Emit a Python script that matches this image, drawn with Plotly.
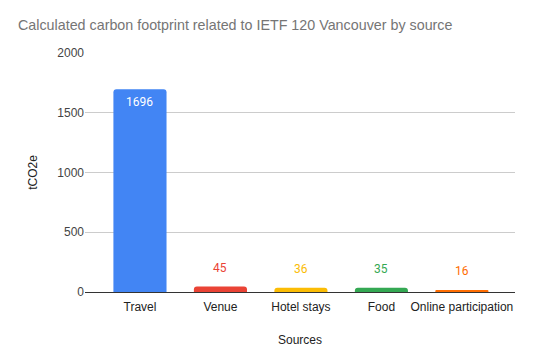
import plotly.graph_objects as go

categories = ["Travel", "Venue", "Hotel stays", "Food", "Online participation"]
values = [1696, 45, 36, 35, 16]
colors = ["#4285F4", "#EA4335", "#FBBC04", "#34A853", "#FF6D01"]
y_ticks = [0, 500, 1000, 1500, 2000]

AX = "Arial"
OFF = 8  # default body margin of the page

fig = go.Figure()
fig.add_trace(go.Bar(
    x=categories, y=values, marker=dict(color=colors, line=dict(width=0)),
    width=0.66, hoverinfo="x+y",
))

annotations = []
for i, (c, v, col) in enumerate(zip(categories, values, colors)):
    if i == 0:
        annotations.append(dict(x=c, y=v, text=str(v), showarrow=False, yanchor="top", yshift=-4,
                                font=dict(color="white", size=12, family="Roboto")))
    else:
        annotations.append(dict(x=c, y=v, text=str(v), showarrow=False, yanchor="bottom", yshift=10,
                                font=dict(color=col, size=12, family="Roboto")))

W, H = 535 - OFF, 363 - OFF
fig.update_layout(
    width=W, height=H,
    margin=dict(l=85 - OFF, r=20, t=53 - OFF, b=71),
    paper_bgcolor="white", plot_bgcolor="white",
    barcornerradius=3,
    title=dict(text="Calculated carbon footprint related to IETF 120 Vancouver by source",
               x=(18 - OFF) / W, xanchor="left", y=1 - (25 - OFF) / H, yanchor="middle",
               font=dict(family=AX, size=14.3, color="#757575")),
    font=dict(family=AX, size=12, color="#222222"),
    xaxis=dict(range=[-0.683, 4.66], showgrid=False, showline=True, linecolor="#333333", linewidth=1,
               ticks="", automargin=False, ticklabelstandoff=4,
               title=dict(text="Sources", standoff=22, font=dict(size=12, color="#222222")),
               tickfont=dict(size=12, color="#222222")),
    yaxis=dict(range=[0, 2000], tickvals=y_ticks, showgrid=True, gridcolor="#cccccc", gridwidth=1,
               zeroline=True, zerolinecolor="#333333", zerolinewidth=1, ticks="", automargin=False,
               title=dict(text="tCO2e", standoff=17, font=dict(size=12, color="#222222")),
               tickfont=dict(size=12, color="#444444")),
    annotations=annotations,
    showlegend=False,
)

fig.write_html("out.html")
